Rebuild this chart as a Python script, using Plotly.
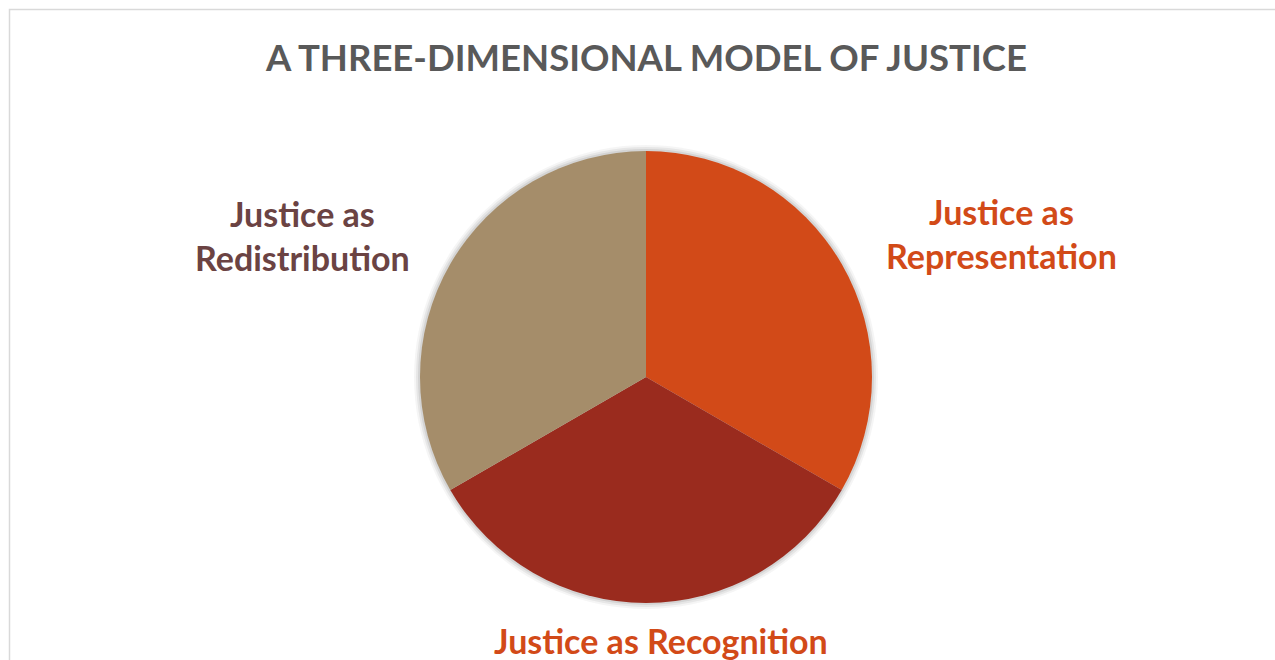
import plotly.graph_objects as go

categories = ["Justice as Representation", "Justice as Recognition", "Justice as Redistribution"]
values = [1, 1, 1]
slice_colors = ["#D24A18", "#9A2B1E", "#A58D6A"]
label_texts = ["Justice as<br>Representation", "Justice as Recognition", "Justice as<br>Redistribution"]
label_colors = ["#D24A18", "#D24A18", "#6B4343"]

W, H = 1275, 660
cx, cy, r = 646, 377, 226

def px(x):
    return x / W

def py(y):
    return 1 - y / H

fig = go.Figure()
# soft shadow rings
for k, (dr, op) in enumerate([(6, 0.04), (4, 0.06), (2, 0.08)]):
    rr = r + dr
    fig.add_trace(go.Pie(
        values=[1], labels=["s"], marker=dict(colors=[f"rgba(0,0,0,{op})"]),
        textinfo="none", hoverinfo="skip", showlegend=False, sort=False,
        domain=dict(x=[px(cx - rr), px(cx + rr)], y=[py(cy + rr), py(cy - rr)]),
    ))
fig.add_trace(go.Pie(
    labels=categories, values=values, sort=False, direction="clockwise", rotation=0,
    marker=dict(colors=slice_colors, line=dict(width=0)),
    textinfo="none", showlegend=False,
    domain=dict(x=[px(cx - r), px(cx + r)], y=[py(cy + r), py(cy - r)]),
))

label_pos = [(1001, 233), (661, 640), (302, 235)]
annotations = [dict(
    text="A THREE-DIMENSIONAL MODEL OF JUSTICE", x=px(646), y=py(57), xref="paper", yref="paper",
    showarrow=False, font=dict(family="Lato", size=36.5, color="#595959", weight="bold"),
    xanchor="center", yanchor="middle")]
for t, c, (x, y) in zip(label_texts, label_colors, label_pos):
    annotations.append(dict(text=f"<b>{t}</b>", x=px(x), y=py(y), xref="paper", yref="paper",
                            showarrow=False, font=dict(family="Lato", size=34, color=c),
                            xanchor="center", yanchor="middle", align="center"))

fig.update_layout(
    width=W, height=H, margin=dict(l=0, r=0, t=0, b=0),
    paper_bgcolor="white", plot_bgcolor="white",
    annotations=annotations,
    shapes=[dict(type="rect", xref="paper", yref="paper", x0=px(9.5), x1=1.05, y0=-0.05, y1=py(9.5),
                 line=dict(color="#D9D9D9", width=1.5), layer="below")],
)
fig.write_html("out.html")
